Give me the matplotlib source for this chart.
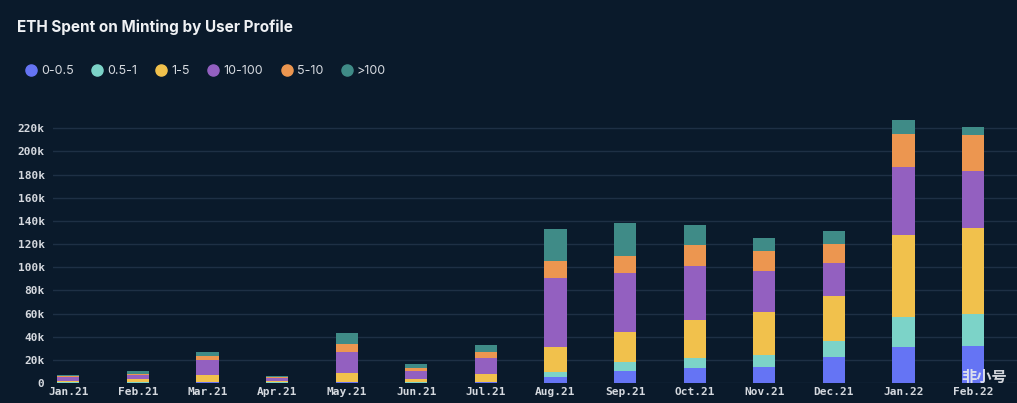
import matplotlib
matplotlib.use("Agg")
import matplotlib.pyplot as plt
import numpy as np
from matplotlib.lines import Line2D

months = ["Jan.21", "Feb.21", "Mar.21", "Apr.21", "May.21", "Jun.21", "Jul.21",
          "Aug.21", "Sep.21", "Oct.21", "Nov.21", "Dec.21", "Jan.22", "Feb.22"]
series_names = ["0-0.5", "0.5-1", "1-5", "10-100", "5-10", ">100"]

# values in thousands of ETH
s_0_05 = [0.3, 0.3, 0.5, 0.2, 0.6, 0.2, 0.7, 5.4, 10.6, 13.2, 14.1, 22.2, 31.1, 31.9]
s_05_1 = [0.3, 0.4, 0.6, 0.3, 0.6, 0.4, 0.5, 4.3, 7.5, 8.4, 9.8, 14.3, 26.1, 27.6]
s_1_5 = [1.5, 2.5, 6.0, 1.5, 7.2, 2.6, 6.6, 21.1, 26.2, 32.8, 37.6, 38.6, 70.5, 74.2]
s_10_100 = [3.0, 3.5, 12.7, 2.5, 18.6, 7.4, 14.0, 59.5, 50.3, 46.8, 35.1, 28.7, 58.4, 49.5]
s_5_10 = [1.0, 1.5, 3.8, 0.8, 6.4, 2.1, 4.7, 15.0, 15.0, 17.6, 17.3, 15.9, 29.0, 31.0]
s_100 = [0.8, 2.2, 3.4, 0.8, 9.7, 3.4, 6.0, 27.6, 28.4, 17.5, 11.3, 11.2, 12.1, 6.7]

yticks = [0, 20, 40, 60, 80, 100, 120, 140, 160, 180, 200, 220]
ytick_labels = ["0", "20k", "40k", "60k", "80k", "100k", "120k", "140k",
                "160k", "180k", "200k", "220k"]

series = [s_0_05, s_05_1, s_1_5, s_10_100, s_5_10, s_100]
colors = ["#6574f4", "#7cd3c8", "#f1c14c", "#9360c0", "#ec9650", "#3f8b87"]

bg = "#0a1a2b"
text_col = "#d5d9df"
grid_col = "#1e3045"

fig = plt.figure(figsize=(10.17, 4.03), dpi=100, facecolor=bg)
ax = fig.add_axes([0.052, 0.0496, 0.948, 0.661], facecolor=bg)

x = np.arange(len(months))
bottom = np.zeros(len(months))
for vals, c in zip(series, colors):
    v = np.array(vals)
    ax.bar(x, v, 0.32, bottom=bottom, color=c, edgecolor="none", zorder=3)
    bottom += v

ax.set_xlim(-0.22, 13.63)
ax.set_ylim(0, 230)
ax.set_yticks(yticks)
ax.set_yticklabels(ytick_labels)
ax.set_xticks(x)
ax.set_xticklabels(months)
for lbl in ax.get_xticklabels() + ax.get_yticklabels():
    lbl.set_fontfamily("DejaVu Sans Mono")
    lbl.set_fontweight("bold")
    lbl.set_fontsize(8)
    lbl.set_color(text_col)
ax.tick_params(axis="both", length=0)
ax.tick_params(axis="y", pad=6)
ax.tick_params(axis="x", pad=3)
ax.grid(axis="y", color=grid_col, linewidth=1, zorder=0)
for sp in ax.spines.values():
    sp.set_visible(False)

fig.text(0.017, 0.933, "ETH Spent on Minting by User Profile", color="#eef0f3",
         fontsize=11, fontweight="bold", family="Inter", va="center")

handles = [Line2D([0], [0], marker="o", linestyle="none", markersize=8,
                  markerfacecolor=c, markeredgecolor=c) for c in colors]
leg = fig.legend(handles, series_names, loc="center left",
                 bbox_to_anchor=(0.012, 0.823), ncol=6, frameon=False,
                 handletextpad=0.2, columnspacing=1.3, handlelength=1.2,
                 prop={"family": "Inter", "size": 9})
for t in leg.get_texts():
    t.set_color(text_col)

fig.text(0.99, 0.065, "非小号", color="#e8eaee", fontsize=11, fontweight="bold",
         family=["Noto Sans CJK SC", "DejaVu Sans"], ha="right", va="center", alpha=0.9)

fig.savefig("out.png", dpi=100, facecolor=bg)
